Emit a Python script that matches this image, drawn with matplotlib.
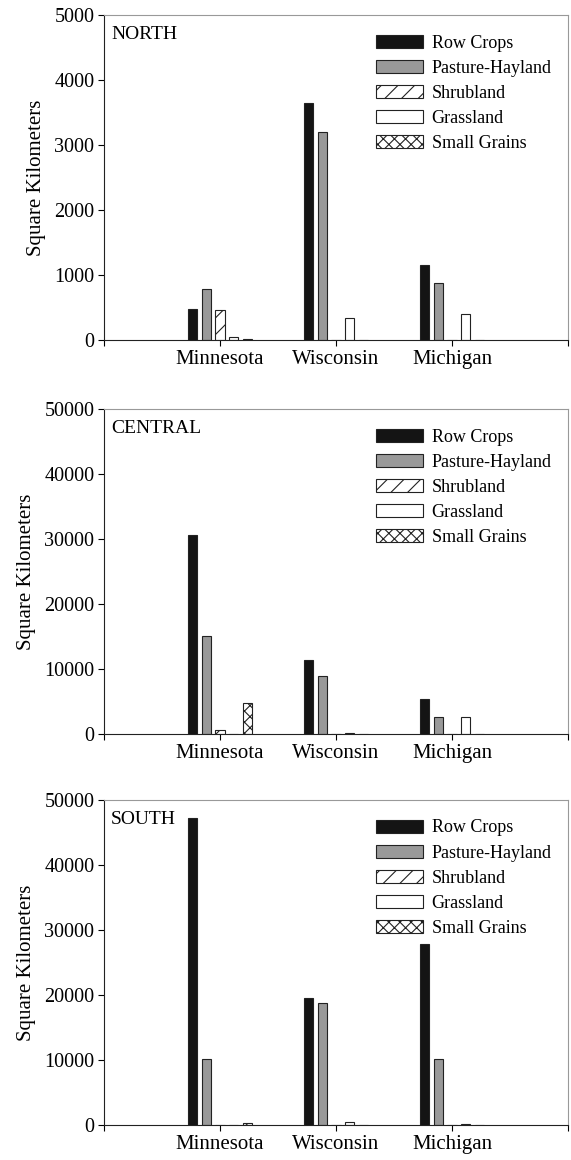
import matplotlib.pyplot as plt
import numpy as np

plt.rcParams['font.family'] = ['Liberation Serif', 'DejaVu Serif']

states = ["Minnesota", "Wisconsin", "Michigan"]
classes = ["Row Crops", "Pasture-Hayland", "Shrubland", "Grassland", "Small Grains"]

# values per region: rows = land cover class, cols = state
north = [
    [480, 3640, 1150],   # Row Crops
    [790, 3200, 870],    # Pasture-Hayland
    [460, 0, 0],         # Shrubland
    [40, 340, 400],      # Grassland
    [20, 0, 0],          # Small Grains
]
central = [
    [30600, 11400, 5400],
    [15100, 8900, 2550],
    [560, 0, 0],
    [0, 200, 2550],
    [4700, 0, 0],
]
south = [
    [47300, 19600, 27900],
    [10100, 18700, 10200],
    [0, 0, 0],
    [0, 500, 150],
    [300, 0, 0],
]
regions = ["NORTH", "CENTRAL", "SOUTH"]
ymaxes = [5000, 50000, 50000]
ysteps = [1000, 10000, 10000]

facecolors = ["#141414", "#999999", "white", "white", "white"]
hatches = [None, None, "//", None, "xxx"]

fig = plt.figure(figsize=(5.71, 11.6), dpi=100)
plt.rcParams['hatch.linewidth'] = 0.8

# axes boxes in pixels (top, bottom)
boxes = [(15, 340), (409, 734), (800, 1125)]
W, H = 571, 1160

x = np.arange(1, len(states) + 1)
bw = 0.078
step = 0.12

for data, name, ymax, ystep, (top, bot) in zip([north, central, south], regions, ymaxes, ysteps, boxes):
    ax = fig.add_axes([104 / W, 1 - bot / H, (568 - 104) / W, (bot - top) / H])
    for i, cls in enumerate(classes):
        off = (i - 2) * step
        ax.bar(x + off, data[i], bw, color=facecolors[i], edgecolor="#222222",
               linewidth=0.8, hatch=hatches[i], label=cls)
    ax.set_xlim(0, 4)
    ax.set_ylim(0, ymax)
    ax.set_yticks(np.arange(0, ymax + 1, ystep))
    ax.set_xticks(np.arange(0, 5))
    ax.set_xticklabels([""] + states + [""])
    ax.tick_params(direction="out", length=4, width=0.8, pad=3)
    ax.tick_params(axis="y", labelsize=14.5)
    ax.tick_params(axis="x", labelsize=15)
    for s in ["top", "right"]:
        ax.spines[s].set_color("#999999")
    for s in ["left", "bottom"]:
        ax.spines[s].set_color("#222222")
    ax.set_ylabel("Square Kilometers", fontsize=15, labelpad=6)
    ax.text(0.015, 0.965, name, transform=ax.transAxes, fontsize=14, va="top", ha="left")
    ax.legend(loc="upper right", bbox_to_anchor=(1.0, 0.99), frameon=False, fontsize=13,
              handlelength=2.6, handleheight=0.7, labelspacing=0.45, handletextpad=0.5)

fig.savefig("out.png", dpi=100)
